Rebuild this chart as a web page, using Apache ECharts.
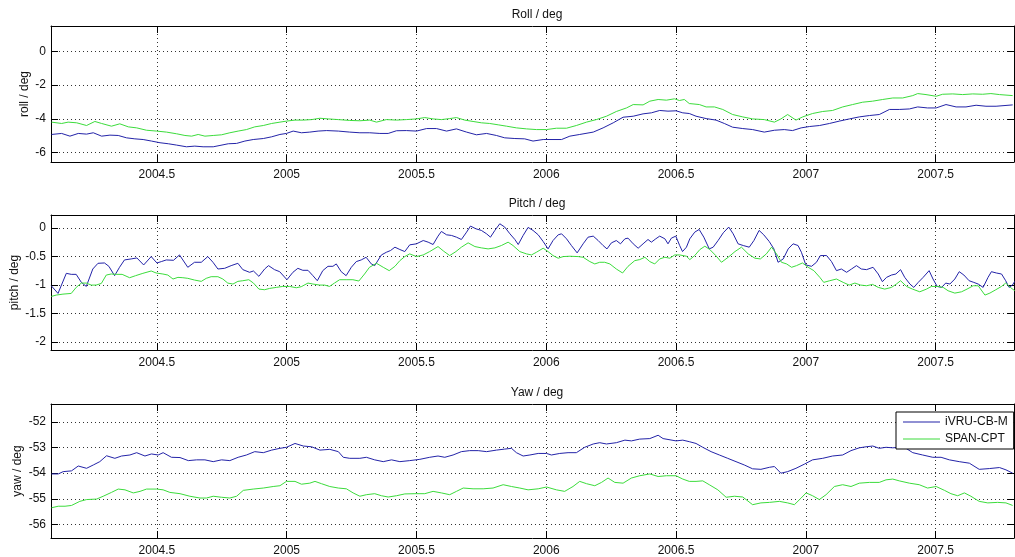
<!DOCTYPE html>
<html>
<head>
<meta charset="utf-8">
<title>Roll / Pitch / Yaw</title>
<script src="https://cdn.jsdelivr.net/npm/echarts@6/dist/echarts.min.js"></script>
<style>
  html, body { margin: 0; padding: 0; background: #fff; }
  #chart { width: 1015px; height: 557px; }
</style>
</head>
<body>
<div id="chart"></div>
<script>
// series names
const seriesNames = ['iVRU-CB-M', 'SPAN-CPT'];

// tick labels
const xTicks = [2004.5, 2005, 2005.5, 2006, 2006.5, 2007, 2007.5];
const rollTicks = [-6, -4, -2, 0];
const pitchTicks = [-2, -1.5, -1, -0.5, 0];
const yawTicks = [-56, -55, -54, -53, -52];

// roll [year, deg]
const rollBlue = [[2004.094,-4.92],[2004.133,-4.86],[2004.165,-5.02],[2004.197,-4.86],[2004.229,-4.90],[2004.255,-4.82],[2004.287,-5.02],[2004.319,-4.96],[2004.351,-4.98],[2004.383,-5.12],[2004.415,-5.18],[2004.447,-5.22],[2004.479,-5.31],[2004.512,-5.41],[2004.544,-5.47],[2004.576,-5.55],[2004.614,-5.65],[2004.646,-5.61],[2004.678,-5.65],[2004.717,-5.65],[2004.743,-5.57],[2004.775,-5.47],[2004.807,-5.45],[2004.839,-5.31],[2004.871,-5.22],[2004.910,-5.16],[2004.942,-5.06],[2004.974,-4.92],[2004.999,-4.86],[2005.025,-4.72],[2005.057,-4.82],[2005.089,-4.78],[2005.121,-4.72],[2005.154,-4.69],[2005.199,-4.72],[2005.243,-4.78],[2005.282,-4.82],[2005.320,-4.82],[2005.359,-4.86],[2005.391,-4.86],[2005.423,-4.70],[2005.461,-4.69],[2005.500,-4.72],[2005.539,-4.57],[2005.577,-4.57],[2005.616,-4.72],[2005.654,-4.59],[2005.693,-4.78],[2005.731,-4.94],[2005.770,-4.86],[2005.808,-4.98],[2005.840,-5.12],[2005.879,-5.16],[2005.917,-5.18],[2005.949,-5.31],[2005.988,-5.22],[2006.026,-5.22],[2006.059,-5.22],[2006.091,-5.02],[2006.129,-4.92],[2006.181,-4.78],[2006.219,-4.53],[2006.258,-4.23],[2006.296,-3.90],[2006.335,-3.84],[2006.373,-3.70],[2006.405,-3.64],[2006.437,-3.50],[2006.469,-3.54],[2006.500,-3.52],[2006.526,-3.64],[2006.551,-3.68],[2006.577,-3.84],[2006.616,-3.98],[2006.654,-4.07],[2006.686,-4.27],[2006.718,-4.49],[2006.757,-4.57],[2006.795,-4.63],[2006.840,-4.78],[2006.879,-4.67],[2006.917,-4.63],[2006.949,-4.69],[2006.982,-4.53],[2007.014,-4.45],[2007.053,-4.39],[2007.091,-4.27],[2007.129,-4.13],[2007.168,-4.00],[2007.206,-3.88],[2007.245,-3.80],[2007.283,-3.74],[2007.322,-3.44],[2007.360,-3.44],[2007.399,-3.41],[2007.431,-3.29],[2007.469,-3.35],[2007.502,-3.35],[2007.540,-3.15],[2007.579,-3.29],[2007.617,-3.29],[2007.656,-3.19],[2007.694,-3.25],[2007.733,-3.25],[2007.797,-3.17]];
const rollGreen = [[2004.094,-4.19],[2004.133,-4.27],[2004.158,-4.19],[2004.191,-4.23],[2004.229,-4.39],[2004.261,-4.15],[2004.287,-4.27],[2004.325,-4.43],[2004.357,-4.29],[2004.390,-4.47],[2004.422,-4.53],[2004.460,-4.67],[2004.499,-4.72],[2004.537,-4.78],[2004.576,-4.88],[2004.608,-4.98],[2004.634,-5.02],[2004.659,-4.92],[2004.685,-5.02],[2004.717,-4.98],[2004.749,-4.94],[2004.781,-4.82],[2004.813,-4.72],[2004.845,-4.63],[2004.877,-4.47],[2004.910,-4.39],[2004.942,-4.27],[2004.974,-4.19],[2004.999,-4.13],[2005.032,-4.07],[2005.064,-4.07],[2005.096,-4.04],[2005.128,-3.96],[2005.160,-4.00],[2005.199,-4.04],[2005.243,-4.09],[2005.282,-4.11],[2005.320,-4.07],[2005.346,-4.19],[2005.384,-4.04],[2005.423,-4.07],[2005.461,-4.04],[2005.500,-4.00],[2005.532,-3.92],[2005.564,-4.00],[2005.596,-4.04],[2005.628,-3.98],[2005.654,-3.92],[2005.686,-4.07],[2005.718,-4.15],[2005.750,-4.23],[2005.782,-4.27],[2005.815,-4.35],[2005.847,-4.43],[2005.885,-4.53],[2005.924,-4.59],[2005.962,-4.63],[2006.001,-4.63],[2006.039,-4.55],[2006.078,-4.55],[2006.116,-4.39],[2006.155,-4.19],[2006.193,-4.04],[2006.232,-3.84],[2006.270,-3.56],[2006.309,-3.35],[2006.335,-3.15],[2006.373,-3.17],[2006.399,-2.95],[2006.431,-2.85],[2006.463,-2.89],[2006.494,-2.81],[2006.513,-2.91],[2006.532,-2.85],[2006.551,-3.09],[2006.590,-3.15],[2006.616,-3.29],[2006.648,-3.29],[2006.680,-3.44],[2006.718,-3.74],[2006.757,-3.88],[2006.795,-4.00],[2006.840,-4.04],[2006.879,-4.19],[2006.904,-4.00],[2006.930,-3.74],[2006.962,-4.07],[2006.988,-3.88],[2007.026,-3.68],[2007.065,-3.56],[2007.103,-3.50],[2007.142,-3.29],[2007.180,-3.15],[2007.219,-3.01],[2007.257,-2.95],[2007.296,-2.85],[2007.335,-2.76],[2007.373,-2.76],[2007.412,-2.62],[2007.431,-2.50],[2007.463,-2.56],[2007.502,-2.66],[2007.527,-2.54],[2007.566,-2.52],[2007.604,-2.56],[2007.643,-2.52],[2007.681,-2.54],[2007.713,-2.50],[2007.746,-2.56],[2007.797,-2.62]];

// pitch [year, deg]
const pitchBlue = [[2004.093,-1.012],[2004.119,-1.147],[2004.151,-0.794],[2004.170,-0.812],[2004.189,-0.812],[2004.209,-0.953],[2004.228,-1.024],[2004.253,-0.718],[2004.273,-0.618],[2004.298,-0.612],[2004.315,-0.671],[2004.337,-0.835],[2004.356,-0.688],[2004.375,-0.559],[2004.401,-0.541],[2004.423,-0.524],[2004.449,-0.647],[2004.478,-0.500],[2004.500,-0.612],[2004.517,-0.588],[2004.536,-0.559],[2004.564,-0.565],[2004.587,-0.471],[2004.619,-0.688],[2004.645,-0.600],[2004.671,-0.600],[2004.696,-0.500],[2004.716,-0.600],[2004.735,-0.718],[2004.761,-0.706],[2004.786,-0.659],[2004.812,-0.618],[2004.831,-0.729],[2004.857,-0.776],[2004.872,-0.753],[2004.893,-0.847],[2004.915,-0.718],[2004.930,-0.659],[2004.953,-0.729],[2004.973,-0.765],[2005.001,-0.906],[2005.024,-0.776],[2005.043,-0.706],[2005.062,-0.741],[2005.082,-0.741],[2005.101,-0.835],[2005.118,-0.924],[2005.139,-0.747],[2005.159,-0.671],[2005.178,-0.671],[2005.191,-0.629],[2005.210,-0.765],[2005.229,-0.835],[2005.249,-0.688],[2005.268,-0.588],[2005.287,-0.559],[2005.306,-0.512],[2005.326,-0.629],[2005.339,-0.659],[2005.365,-0.471],[2005.384,-0.424],[2005.400,-0.394],[2005.417,-0.335],[2005.436,-0.376],[2005.455,-0.412],[2005.474,-0.294],[2005.500,-0.276],[2005.526,-0.218],[2005.545,-0.247],[2005.564,-0.288],[2005.583,-0.141],[2005.596,-0.059],[2005.616,-0.118],[2005.635,-0.129],[2005.654,-0.159],[2005.673,-0.200],[2005.693,-0.071],[2005.708,0.035],[2005.729,-0.012],[2005.750,-0.041],[2005.770,-0.100],[2005.785,-0.159],[2005.802,-0.041],[2005.821,0.076],[2005.840,0.018],[2005.860,-0.100],[2005.879,-0.200],[2005.892,-0.288],[2005.911,-0.129],[2005.930,0.012],[2005.949,-0.041],[2005.969,-0.118],[2005.988,-0.235],[2006.007,-0.365],[2006.026,-0.218],[2006.046,-0.118],[2006.059,-0.100],[2006.078,-0.188],[2006.097,-0.306],[2006.119,-0.435],[2006.142,-0.276],[2006.161,-0.159],[2006.181,-0.141],[2006.200,-0.218],[2006.219,-0.306],[2006.234,-0.365],[2006.251,-0.259],[2006.270,-0.218],[2006.286,-0.276],[2006.303,-0.188],[2006.315,-0.176],[2006.335,-0.276],[2006.354,-0.353],[2006.373,-0.276],[2006.392,-0.200],[2006.405,-0.247],[2006.422,-0.188],[2006.437,-0.141],[2006.457,-0.188],[2006.469,-0.276],[2006.482,-0.176],[2006.499,-0.141],[2006.514,-0.306],[2006.525,-0.412],[2006.540,-0.335],[2006.553,-0.188],[2006.572,-0.071],[2006.589,-0.024],[2006.607,-0.159],[2006.628,-0.365],[2006.643,-0.335],[2006.662,-0.218],[2006.682,-0.082],[2006.703,0.018],[2006.720,-0.100],[2006.739,-0.276],[2006.759,-0.306],[2006.782,-0.335],[2006.800,-0.218],[2006.820,-0.041],[2006.838,-0.118],[2006.859,-0.235],[2006.877,-0.365],[2006.893,-0.600],[2006.913,-0.541],[2006.932,-0.365],[2006.951,-0.276],[2006.970,-0.306],[2006.983,-0.424],[2007.000,-0.647],[2007.022,-0.671],[2007.041,-0.600],[2007.056,-0.482],[2007.080,-0.482],[2007.099,-0.588],[2007.118,-0.747],[2007.137,-0.718],[2007.157,-0.776],[2007.176,-0.718],[2007.195,-0.659],[2007.214,-0.718],[2007.234,-0.729],[2007.259,-0.688],[2007.279,-0.806],[2007.295,-0.941],[2007.311,-0.865],[2007.330,-0.824],[2007.347,-0.806],[2007.365,-0.729],[2007.381,-0.865],[2007.401,-0.982],[2007.416,-1.041],[2007.433,-0.953],[2007.452,-0.865],[2007.475,-0.747],[2007.490,-0.894],[2007.506,-1.024],[2007.523,-1.041],[2007.539,-0.965],[2007.555,-0.982],[2007.574,-0.894],[2007.591,-0.765],[2007.609,-0.824],[2007.629,-0.924],[2007.647,-0.953],[2007.664,-0.982],[2007.683,-1.041],[2007.702,-0.865],[2007.715,-0.765],[2007.734,-0.788],[2007.754,-0.806],[2007.770,-0.924],[2007.783,-1.041],[2007.796,-1.000],[2007.805,-0.935]];
const pitchGreen = [[2004.093,-1.200],[2004.112,-1.176],[2004.138,-1.159],[2004.170,-1.147],[2004.189,-1.041],[2004.209,-0.965],[2004.228,-0.965],[2004.247,-1.000],[2004.266,-1.000],[2004.286,-0.971],[2004.305,-0.824],[2004.324,-0.806],[2004.343,-0.812],[2004.366,-0.812],[2004.395,-0.871],[2004.418,-0.835],[2004.446,-0.794],[2004.478,-0.753],[2004.497,-0.788],[2004.523,-0.806],[2004.542,-0.824],[2004.562,-0.894],[2004.581,-0.865],[2004.600,-0.871],[2004.619,-0.882],[2004.645,-0.912],[2004.671,-0.935],[2004.690,-0.882],[2004.709,-0.853],[2004.735,-0.853],[2004.754,-0.894],[2004.773,-0.965],[2004.793,-0.982],[2004.812,-0.935],[2004.831,-0.924],[2004.854,-0.906],[2004.872,-0.965],[2004.893,-1.071],[2004.915,-1.082],[2004.934,-1.059],[2004.960,-1.041],[2004.985,-1.024],[2005.011,-1.024],[2005.037,-1.047],[2005.056,-1.029],[2005.082,-0.965],[2005.101,-0.982],[2005.127,-1.000],[2005.146,-1.000],[2005.165,-1.024],[2005.184,-0.965],[2005.204,-0.906],[2005.229,-0.906],[2005.255,-0.906],[2005.278,-0.929],[2005.300,-0.806],[2005.319,-0.688],[2005.346,-0.618],[2005.372,-0.688],[2005.395,-0.747],[2005.417,-0.671],[2005.436,-0.571],[2005.455,-0.500],[2005.474,-0.453],[2005.500,-0.500],[2005.526,-0.471],[2005.551,-0.412],[2005.583,-0.324],[2005.605,-0.406],[2005.628,-0.482],[2005.652,-0.412],[2005.673,-0.335],[2005.699,-0.259],[2005.725,-0.324],[2005.750,-0.347],[2005.776,-0.365],[2005.802,-0.347],[2005.827,-0.306],[2005.853,-0.247],[2005.872,-0.306],[2005.898,-0.412],[2005.924,-0.453],[2005.943,-0.471],[2005.962,-0.424],[2005.988,-0.353],[2006.007,-0.412],[2006.026,-0.482],[2006.046,-0.529],[2006.065,-0.500],[2006.091,-0.494],[2006.123,-0.500],[2006.142,-0.512],[2006.168,-0.588],[2006.187,-0.629],[2006.206,-0.600],[2006.225,-0.600],[2006.245,-0.629],[2006.270,-0.718],[2006.294,-0.788],[2006.315,-0.671],[2006.341,-0.571],[2006.360,-0.553],[2006.380,-0.512],[2006.399,-0.588],[2006.418,-0.629],[2006.437,-0.541],[2006.457,-0.512],[2006.476,-0.529],[2006.495,-0.471],[2006.514,-0.471],[2006.540,-0.494],[2006.553,-0.553],[2006.572,-0.482],[2006.592,-0.376],[2006.611,-0.318],[2006.630,-0.376],[2006.653,-0.482],[2006.675,-0.600],[2006.701,-0.512],[2006.727,-0.412],[2006.752,-0.335],[2006.778,-0.453],[2006.804,-0.529],[2006.825,-0.541],[2006.848,-0.453],[2006.868,-0.335],[2006.887,-0.453],[2006.906,-0.600],[2006.926,-0.629],[2006.945,-0.688],[2006.964,-0.659],[2006.987,-0.612],[2007.009,-0.688],[2007.031,-0.747],[2007.054,-0.865],[2007.069,-0.953],[2007.092,-0.924],[2007.118,-0.894],[2007.144,-0.953],[2007.167,-1.000],[2007.189,-0.965],[2007.211,-1.000],[2007.234,-1.012],[2007.257,-0.988],[2007.279,-1.041],[2007.304,-1.071],[2007.330,-1.041],[2007.349,-0.982],[2007.365,-0.924],[2007.388,-1.024],[2007.411,-1.071],[2007.439,-1.118],[2007.465,-1.071],[2007.484,-1.024],[2007.510,-1.024],[2007.529,-1.041],[2007.548,-1.100],[2007.574,-1.141],[2007.600,-1.118],[2007.621,-1.071],[2007.645,-1.012],[2007.664,-1.012],[2007.690,-1.176],[2007.709,-1.141],[2007.732,-1.082],[2007.754,-1.024],[2007.770,-0.965],[2007.788,-1.041],[2007.805,-1.100]];

// yaw [year, deg]
const yawBlue = [[2004.094,-54.03],[2004.120,-54.03],[2004.139,-53.94],[2004.171,-53.91],[2004.197,-53.72],[2004.229,-53.81],[2004.255,-53.68],[2004.280,-53.55],[2004.306,-53.32],[2004.338,-53.42],[2004.364,-53.33],[2004.396,-53.29],[2004.422,-53.20],[2004.454,-53.33],[2004.479,-53.25],[2004.505,-53.29],[2004.524,-53.20],[2004.556,-53.38],[2004.589,-53.39],[2004.621,-53.51],[2004.653,-53.48],[2004.685,-53.48],[2004.717,-53.55],[2004.749,-53.48],[2004.781,-53.51],[2004.813,-53.38],[2004.845,-53.29],[2004.877,-53.16],[2004.910,-53.20],[2004.942,-53.10],[2004.974,-53.03],[2004.999,-52.99],[2005.032,-52.84],[2005.064,-52.94],[2005.096,-52.97],[2005.128,-53.10],[2005.166,-53.07],[2005.199,-53.16],[2005.218,-53.38],[2005.243,-53.42],[2005.282,-53.42],[2005.307,-53.38],[2005.339,-53.48],[2005.372,-53.55],[2005.404,-53.48],[2005.436,-53.55],[2005.474,-53.51],[2005.513,-53.46],[2005.551,-53.38],[2005.583,-53.33],[2005.609,-53.38],[2005.641,-53.29],[2005.673,-53.16],[2005.705,-53.12],[2005.738,-53.12],[2005.770,-53.16],[2005.808,-53.10],[2005.840,-53.06],[2005.866,-53.03],[2005.885,-53.20],[2005.911,-53.33],[2005.937,-53.29],[2005.969,-53.23],[2006.001,-53.23],[2006.020,-53.29],[2006.052,-53.23],[2006.084,-53.20],[2006.116,-53.20],[2006.148,-52.99],[2006.181,-52.86],[2006.206,-52.81],[2006.232,-52.86],[2006.270,-52.81],[2006.303,-52.71],[2006.328,-52.74],[2006.360,-52.67],[2006.399,-52.65],[2006.431,-52.52],[2006.450,-52.65],[2006.500,-52.74],[2006.526,-52.71],[2006.551,-52.77],[2006.577,-52.84],[2006.603,-52.99],[2006.635,-53.16],[2006.667,-53.29],[2006.699,-53.42],[2006.731,-53.55],[2006.763,-53.68],[2006.795,-53.83],[2006.827,-53.85],[2006.860,-53.77],[2006.879,-53.74],[2006.904,-54.00],[2006.930,-53.94],[2006.962,-53.81],[2006.994,-53.65],[2007.026,-53.48],[2007.065,-53.42],[2007.103,-53.33],[2007.142,-53.29],[2007.174,-53.12],[2007.206,-53.01],[2007.232,-52.97],[2007.258,-52.94],[2007.283,-53.03],[2007.309,-52.99],[2007.335,-53.01],[2007.360,-52.99],[2007.386,-53.03],[2007.412,-53.20],[2007.450,-53.29],[2007.489,-53.38],[2007.521,-53.38],[2007.553,-53.48],[2007.591,-53.55],[2007.630,-53.61],[2007.668,-53.85],[2007.707,-53.82],[2007.746,-53.78],[2007.771,-53.87],[2007.797,-54.00]];
const yawGreen = [[2004.094,-55.35],[2004.120,-55.29],[2004.146,-55.29],[2004.171,-55.26],[2004.203,-55.10],[2004.229,-55.03],[2004.268,-55.01],[2004.293,-54.90],[2004.325,-54.75],[2004.351,-54.62],[2004.377,-54.65],[2004.409,-54.77],[2004.435,-54.71],[2004.460,-54.62],[2004.499,-54.62],[2004.524,-54.65],[2004.550,-54.75],[2004.589,-54.80],[2004.627,-54.90],[2004.666,-54.97],[2004.691,-54.97],[2004.717,-54.90],[2004.749,-54.94],[2004.781,-54.97],[2004.807,-54.90],[2004.833,-54.67],[2004.871,-54.62],[2004.910,-54.58],[2004.948,-54.52],[2004.974,-54.49],[2004.999,-54.32],[2005.032,-54.32],[2005.057,-54.43],[2005.089,-54.39],[2005.109,-54.32],[2005.134,-54.41],[2005.166,-54.52],[2005.199,-54.58],[2005.230,-54.61],[2005.256,-54.77],[2005.282,-54.90],[2005.307,-54.84],[2005.339,-54.80],[2005.365,-54.88],[2005.391,-54.93],[2005.423,-54.88],[2005.455,-54.81],[2005.494,-54.80],[2005.532,-54.80],[2005.564,-54.71],[2005.596,-54.77],[2005.628,-54.84],[2005.654,-54.71],[2005.680,-54.58],[2005.718,-54.61],[2005.757,-54.61],[2005.795,-54.58],[2005.834,-54.45],[2005.866,-54.52],[2005.898,-54.58],[2005.930,-54.65],[2005.969,-54.61],[2006.001,-54.54],[2006.039,-54.65],[2006.071,-54.71],[2006.103,-54.52],[2006.129,-54.32],[2006.155,-54.41],[2006.187,-54.49],[2006.213,-54.36],[2006.238,-54.19],[2006.264,-54.36],[2006.296,-54.39],[2006.328,-54.19],[2006.360,-54.10],[2006.399,-54.03],[2006.431,-54.13],[2006.463,-54.10],[2006.500,-54.10],[2006.526,-54.23],[2006.551,-54.32],[2006.577,-54.32],[2006.603,-54.30],[2006.628,-54.45],[2006.661,-54.65],[2006.693,-54.94],[2006.725,-54.90],[2006.757,-54.93],[2006.795,-55.23],[2006.827,-55.16],[2006.860,-55.14],[2006.898,-55.10],[2006.930,-55.16],[2006.956,-55.23],[2006.982,-54.97],[2007.001,-54.77],[2007.026,-54.88],[2007.052,-55.03],[2007.078,-54.84],[2007.110,-54.52],[2007.142,-54.45],[2007.174,-54.52],[2007.206,-54.39],[2007.245,-54.36],[2007.283,-54.36],[2007.309,-54.26],[2007.335,-54.23],[2007.360,-54.30],[2007.399,-54.39],[2007.437,-54.45],[2007.469,-54.58],[2007.502,-54.52],[2007.534,-54.67],[2007.559,-54.80],[2007.585,-54.88],[2007.611,-54.77],[2007.636,-54.90],[2007.668,-55.10],[2007.701,-55.16],[2007.739,-55.14],[2007.771,-55.16],[2007.797,-55.26]];

const FONT = '"Liberation Sans", Arial, sans-serif';
const BLUE = '#2323a8';
const GREEN = '#3cdc3c';
const X_MIN = 2004.092, X_MAX = 2007.802;

// one entry per subplot
const panels = [
    { title: 'Roll / deg',  yName: 'roll / deg',  nameGap: 20, top: 26,  height: 136, min: -6.55,  max: 1.5,    ticks: rollTicks,  blue: rollBlue,  green: rollGreen },
    { title: 'Pitch / deg', yName: 'pitch / deg', nameGap: 30, top: 215, height: 135, min: -2.14,  max: 0.23,   ticks: pitchTicks, blue: pitchBlue, green: pitchGreen },
    { title: 'Yaw / deg',   yName: 'yaw / deg',   nameGap: 27, top: 404, height: 135, min: -56.53, max: -51.30, ticks: yawTicks,   blue: yawBlue,   green: yawGreen }
];

const chart = echarts.init(document.getElementById('chart'), null, { renderer: 'canvas' });

const grids = [], xAxes = [], yAxes = [], titles = [], series = [];
const axisLine = { show: true, onZero: false, lineStyle: { color: '#000', width: 1 } };
const gridLine = { show: true, lineStyle: { color: '#333', width: 1, type: [1, 3] } };

panels.forEach((p, i) => {
    grids.push({ left: 51, width: 963, top: p.top, height: p.height });

    titles.push({
        text: p.title, left: 532, top: p.top - 22, textAlign: 'center',
        textStyle: { fontFamily: FONT, fontSize: 12, fontWeight: 'normal', color: '#111' }
    });

    // bottom axis with labels and grid, then a bare top axis to close the box
    xAxes.push({
        type: 'value', gridIndex: i, position: 'bottom', min: X_MIN, max: X_MAX,
        axisLine: axisLine,
        axisTick: { show: true, inside: true, length: 7, customValues: xTicks, lineStyle: { color: '#000' } },
        axisLabel: { customValues: xTicks, margin: 7, formatter: v => String(v),
                     fontFamily: FONT, fontSize: 12, color: '#111' },
        splitLine: gridLine
    });
    xAxes.push({
        type: 'value', gridIndex: i, position: 'top', min: X_MIN, max: X_MAX,
        axisLine: axisLine,
        axisTick: { show: true, inside: true, length: 7, customValues: xTicks, lineStyle: { color: '#000' } },
        axisLabel: { show: false },
        splitLine: { show: false }
    });

    yAxes.push({
        type: 'value', gridIndex: i, position: 'left', min: p.min, max: p.max,
        name: p.yName, nameLocation: 'middle', nameGap: p.nameGap, nameMoveOverlap: false,
        nameTextStyle: { fontFamily: FONT, fontSize: 12, color: '#111' },
        axisLine: axisLine,
        axisTick: { show: true, inside: true, length: 7, customValues: p.ticks, lineStyle: { color: '#000' } },
        axisLabel: { customValues: p.ticks, margin: 5, formatter: v => String(v),
                     fontFamily: FONT, fontSize: 12, color: '#111' },
        splitLine: gridLine
    });
    yAxes.push({
        type: 'value', gridIndex: i, position: 'right', min: p.min, max: p.max,
        axisLine: axisLine,
        axisTick: { show: true, inside: true, length: 7, customValues: p.ticks, lineStyle: { color: '#000' } },
        axisLabel: { show: false },
        splitLine: { show: false }
    });

    [[seriesNames[0], p.blue, BLUE], [seriesNames[1], p.green, GREEN]].forEach(([name, data, color]) => {
        series.push({
            name: name, type: 'line', xAxisIndex: 2 * i, yAxisIndex: 2 * i,
            data: data, symbol: 'none', smooth: false, clip: true,
            lineStyle: { color: color, width: 1 }, itemStyle: { color: color }
        });
    });
});

const option = {
    backgroundColor: '#fff',
    animation: false,
    title: titles,
    grid: grids,
    xAxis: xAxes,
    yAxis: yAxes,
    legend: {
        data: seriesNames, orient: 'vertical', left: 896, top: 412,
        backgroundColor: '#fff', borderColor: '#000', borderWidth: 1,
        padding: [3, 6, 3, 7], itemGap: 3, itemWidth: 37, itemHeight: 1, icon: 'rect',
        textStyle: { fontFamily: FONT, fontSize: 12, color: '#111', lineHeight: 14 }
    },
    series: series
};

chart.setOption(option);
</script>
</body>
</html>
